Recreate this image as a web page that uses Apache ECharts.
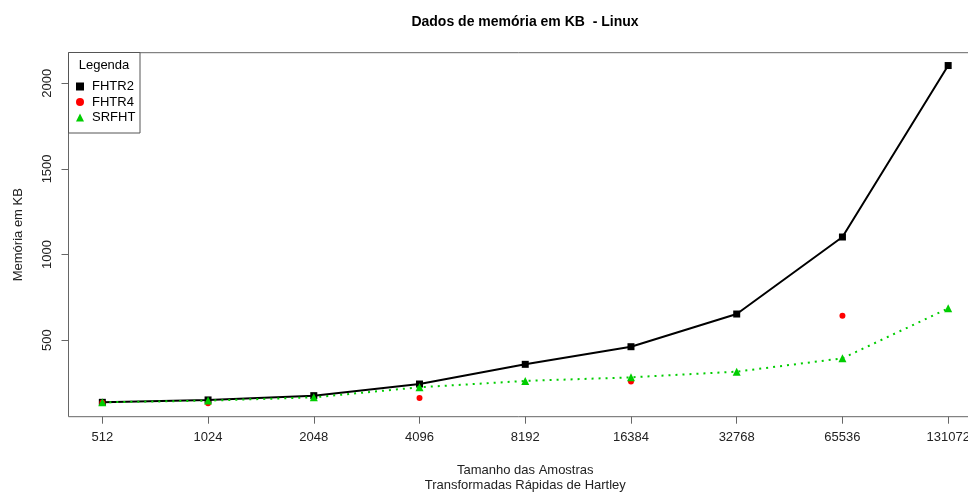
<!DOCTYPE html>
<html>
<head>
<meta charset="utf-8">
<script src="https://cdn.jsdelivr.net/npm/echarts@6/dist/echarts.min.js"></script>
<style>
  html, body { margin: 0; padding: 0; background: #fff; }
  #chart { width: 968px; height: 493px; }
</style>
</head>
<body>
<div id="chart"></div>
<script>
const sizes = ["512", "1024", "2048", "4096", "8192", "16384", "32768", "65536", "131072"];
const fhtr2 = [136, 150, 175, 243, 358, 461, 652, 1102, 2104];
const fhtr4 = [134, 130, null, 161, null, 257, null, 642, null];
const srfht = [136, 146, 165, 224, 261, 282, 315, 393, 685];
const yTicks = [500, 1000, 1500, 2000];

const FONT = "Liberation Sans, Arial, sans-serif";
const GREEN = "#00CD00";
const pts = arr => arr.map((v, i) => [i + 1, v]);
const xTicks = sizes.map((s, i) => i + 1);

const chart = echarts.init(document.getElementById("chart"), null, { renderer: "canvas" });
chart.setOption({
  animation: false,
  backgroundColor: "#fff",
  textStyle: { fontFamily: FONT },
  grid: {
    left: 68.5, right: -14, top: 52.7, bottom: 76.3,
    outerBoundsMode: "none", containLabel: false,
    show: true, borderColor: "#666", borderWidth: 1, backgroundColor: "transparent"
  },
  xAxis: {
    type: "value", min: 0.68, max: 9.32,
    splitLine: { show: false },
    axisLine: { show: false },
    axisTick: { show: true, length: 7, lineStyle: { color: "#666" }, customValues: xTicks },
    axisLabel: {
      customValues: xTicks, margin: 14, fontSize: 13, color: "#222", fontFamily: FONT,
      formatter: v => sizes[Math.round(v) - 1] || ""
    },
    name: "Tamanho das Amostras\nTransformadas Rápidas de Hartley",
    nameLocation: "middle", nameGap: 46,
    nameTextStyle: { fontSize: 13, color: "#222", lineHeight: 15, verticalAlign: "top", fontFamily: FONT }
  },
  yAxis: {
    type: "value", min: 52, max: 2179,
    splitLine: { show: false },
    axisLine: { show: false },
    axisTick: { show: true, length: 7, lineStyle: { color: "#666" }, customValues: yTicks },
    axisLabel: {
      customValues: yTicks, rotate: 90, margin: 15, fontSize: 13, color: "#222", fontFamily: FONT,
      formatter: v => String(v)
    },
    name: "Memória em KB",
    nameLocation: "middle", nameGap: 44, nameRotate: 90,
    nameTextStyle: { fontSize: 13, color: "#222", fontFamily: FONT }
  },
  legend: {
    orient: "vertical", left: 76, top: 79, z: 6, padding: 0,
    itemWidth: 8, itemHeight: 8, itemGap: 0.5,
    textStyle: { fontSize: 13, color: "#000", lineHeight: 15, padding: [0, 0, 0, 3], fontFamily: FONT },
    data: [
      { name: "FHTR2", icon: "rect" },
      { name: "FHTR4", icon: "circle" },
      { name: "SRFHT", icon: "triangle" }
    ],
    selectedMode: false
  },
  graphic: [
    {
      type: "rect", z: 5,
      shape: { x: 68.5, y: 52.5, width: 71.5, height: 80.5 },
      style: { fill: "#fff", stroke: "#555", lineWidth: 1 }
    },
    {
      type: "text", z: 6, x: 104, y: 65,
      style: { text: "Legenda", fill: "#000", align: "center", verticalAlign: "middle", font: "13px " + FONT }
    },
    {
      type: "text", z: 6, x: 525, y: 22,
      style: { text: "Dados de memória em KB  - Linux", fill: "#000", align: "center", verticalAlign: "middle", font: "bold 14px " + FONT }
    }
  ],
  series: [
    {
      name: "FHTR2", type: "line", data: pts(fhtr2),
      symbol: "rect", symbolSize: 7,
      lineStyle: { color: "#000", width: 2 },
      itemStyle: { color: "#000" },
      emphasis: { disabled: true }, z: 2
    },
    {
      name: "FHTR4", type: "scatter", data: pts(fhtr4).filter(p => p[1] != null),
      symbol: "circle", symbolSize: 6,
      itemStyle: { color: "#FF0000", opacity: 1 },
      emphasis: { disabled: true }, z: 3
    },
    {
      name: "SRFHT", type: "line", data: pts(srfht),
      symbol: "triangle", symbolSize: 8,
      lineStyle: { color: GREEN, width: 2, type: [2, 5] },
      itemStyle: { color: GREEN },
      emphasis: { disabled: true }, z: 4
    }
  ]
});
</script>
</body>
</html>
